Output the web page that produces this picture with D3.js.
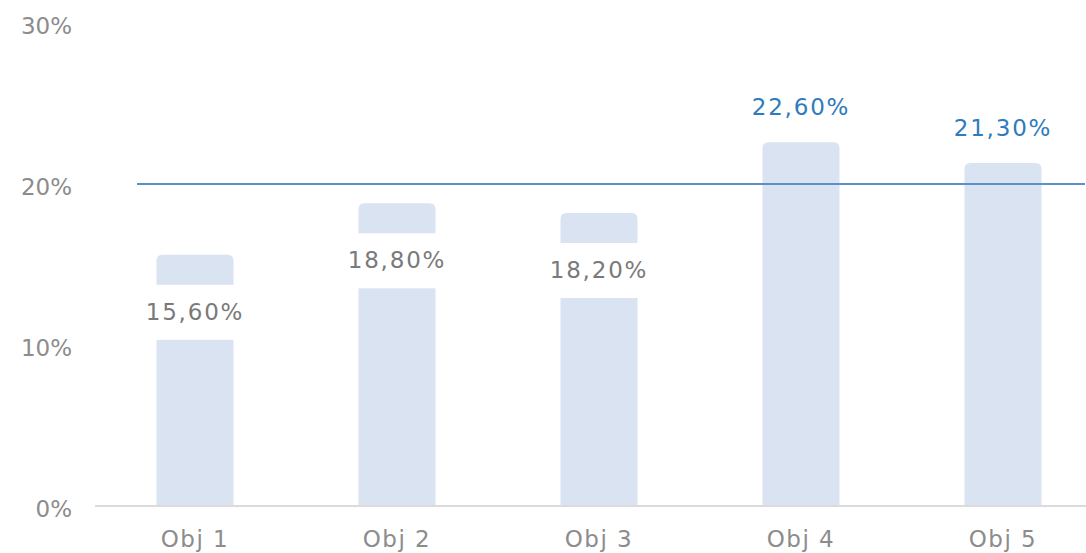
<!DOCTYPE html>
<html>
<head>
<meta charset="utf-8">
<script src="https://cdn.jsdelivr.net/npm/d3@7"></script>
<style>
  html, body { margin: 0; padding: 0; background: #fff; }
  svg text { font-family: "DejaVu Sans", Verdana, sans-serif; }
</style>
</head>
<body>
<svg id="chart" width="1086" height="553"></svg>
<script>
var categories = ['Obj 1', 'Obj 2', 'Obj 3', 'Obj 4', 'Obj 5'];
var values = [15.6, 18.8, 18.2, 22.6, 21.3];
var tickValues = [0, 10, 20, 30];
var target = 20;

const svg = d3.select("#chart"),
  x = d3.scaleBand().domain(categories).range([94, 1104]).paddingInner(0.619).paddingOuter(0.3095),
  y = d3.scaleLinear().domain([0, 30]).range([506, 23]);

const fmt = v => v.toFixed(2).replace('.', ',') + '%';

// y tick labels
svg.append("g")
  .selectAll("text")
  .data(tickValues)
  .enter().append("text")
  .attr("x", 72)
  .attr("y", d => y(d) + 3)
  .attr("dy", "0.36em")
  .attr("text-anchor", "end")
  .attr("font-size", 23)
  .attr("fill", "#8c8c8c")
  .text(d => d + '%');

// baseline
svg.append("line")
  .attr("x1", 95).attr("x2", 1086)
  .attr("y1", y(0)).attr("y2", y(0))
  .attr("stroke", "#cfcfcf").attr("stroke-width", 1.5);

// bars with rounded top corners
const r = 6;
svg.append("g")
  .selectAll("path")
  .data(values)
  .enter().append("path")
  .attr("fill", "#d9e3f2")
  .attr("d", (d, i) => {
    const x0 = x(categories[i]), w = x.bandwidth(), t = y(d), b = y(0) - 1;
    return `M${x0},${b}V${t + r}Q${x0},${t} ${x0 + r},${t}H${x0 + w - r}Q${x0 + w},${t} ${x0 + w},${t + r}V${b}Z`;
  });

// target line
svg.append("line")
  .attr("x1", 137).attr("x2", 1085)
  .attr("y1", y(target)).attr("y2", y(target))
  .attr("stroke", "#5b90c8").attr("stroke-width", 2);

// value labels
const labels = svg.append("g")
  .selectAll("g")
  .data(values)
  .enter().append("g");

labels.filter(d => d < target)
  .append("rect")
  .attr("x", (d, i) => x(categories[i]) - 3)
  .attr("width", x.bandwidth() + 6)
  .attr("y", d => y(d) + 30)
  .attr("height", 55)
  .attr("fill", "#fff");

labels.append("text")
  .attr("x", (d, i) => x(categories[i]) + x.bandwidth() / 2)
  .attr("y", d => d < target ? y(d) + 65 : y(d) - 27)
  .attr("text-anchor", "middle")
  .attr("font-size", 23)
  .attr("letter-spacing", 1.8)
  .attr("fill", d => d < target ? "#7a7a7a" : "#2f7bbd")
  .text(d => fmt(d));

// category labels
svg.append("g")
  .selectAll("text")
  .data(categories)
  .enter().append("text")
  .attr("x", d => x(d) + x.bandwidth() / 2)
  .attr("y", 547)
  .attr("text-anchor", "middle")
  .attr("font-size", 23)
  .attr("letter-spacing", 1.5)
  .attr("fill", "#8c8c8c")
  .text(d => d);
</script>
</body>
</html>
